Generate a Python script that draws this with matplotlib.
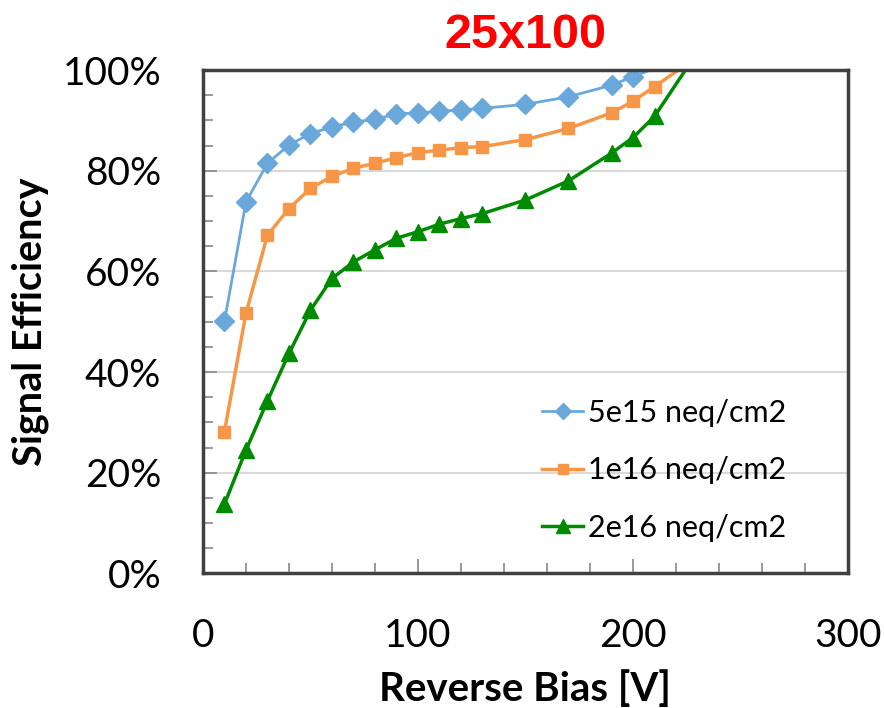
import matplotlib
matplotlib.use("Agg")
import matplotlib.pyplot as plt
from matplotlib.ticker import MultipleLocator, FuncFormatter

# reverse bias [V]
bias_5e15 = [10, 20, 30, 40, 50, 60, 70, 80, 90, 100, 110, 120, 130, 150, 170, 190, 200, 230]
bias = [10, 20, 30, 40, 50, 60, 70, 80, 90, 100, 110, 120, 130, 150, 170, 190, 200, 210, 230]

# signal efficiency [%] per fluence
eff_5e15 = [50.1, 73.8, 81.5, 85.1, 87.4, 88.7, 89.7, 90.2, 91.3, 91.5, 91.8, 92.1, 92.4, 93.2, 94.7, 97.0, 98.7, 103.6]
eff_1e16 = [28.2, 51.7, 67.2, 72.5, 76.5, 78.9, 80.5, 81.5, 82.6, 83.6, 84.1, 84.6, 84.8, 86.2, 88.4, 91.5, 93.8, 96.7, 102.7]
eff_2e16 = [13.8, 24.5, 34.3, 43.7, 52.3, 58.6, 61.9, 64.3, 66.6, 67.9, 69.4, 70.5, 71.5, 74.2, 78.0, 83.5, 86.6, 90.8, 103.6]

labels = ["5e15 neq/cm2", "1e16 neq/cm2", "2e16 neq/cm2"]

plt.rcParams['font.family'] = ['Lato', 'DejaVu Sans']

fig = plt.figure(figsize=(8.84, 7.08), dpi=100)
ax = fig.add_axes([0.2296, 0.19, 0.7297, 0.711])

ax.plot(bias_5e15, eff_5e15, color='#6aa8dc', lw=2, marker='D', ms=10, label=labels[0])
ax.plot(bias, eff_1e16, color='#f79646', lw=2.5, marker='s', ms=9, label=labels[1])
ax.plot(bias, eff_2e16, color='#008a00', lw=2.5, marker='^', ms=12, label=labels[2])

ax.set_xlim(0, 300)
ax.set_ylim(0, 100)
ax.xaxis.set_major_locator(MultipleLocator(100))
ax.xaxis.set_minor_locator(MultipleLocator(20))
ax.yaxis.set_major_locator(MultipleLocator(20))
ax.yaxis.set_minor_locator(MultipleLocator(5))
ax.yaxis.set_major_formatter(FuncFormatter(lambda v, p: f"{v:.0f}%"))

ax.grid(axis='y', which='major', color='#d9d9d9', lw=1.5)
ax.set_axisbelow(True)
ax.tick_params(which='both', direction='in', color='#888888', width=1.2)
ax.tick_params(which='major', length=10)
ax.tick_params(which='minor', length=7)
ax.tick_params(axis='x', which='major', labelsize=28, pad=32)
ax.tick_params(axis='y', which='major', labelsize=28, pad=30)

for s in ax.spines.values():
    s.set_color('#404040')
    s.set_linewidth(2.5)

ax.set_xlabel("Reverse Bias [V]", fontsize=29, fontweight='bold', labelpad=12)
ax.set_ylabel("Signal Efficiency", fontsize=28.5, fontweight='bold', labelpad=10)
ax.set_title("25x100", color='#ff0000', fontsize=35, fontweight='bold',
             family='Liberation Sans', pad=16)

ax.legend(loc='lower right', bbox_to_anchor=(0.947, 0.008), frameon=False, fontsize=22,
          handlelength=1.35, handletextpad=0.15, labelspacing=0.97, markerscale=0.8)

fig.savefig("out.png", dpi=100)
